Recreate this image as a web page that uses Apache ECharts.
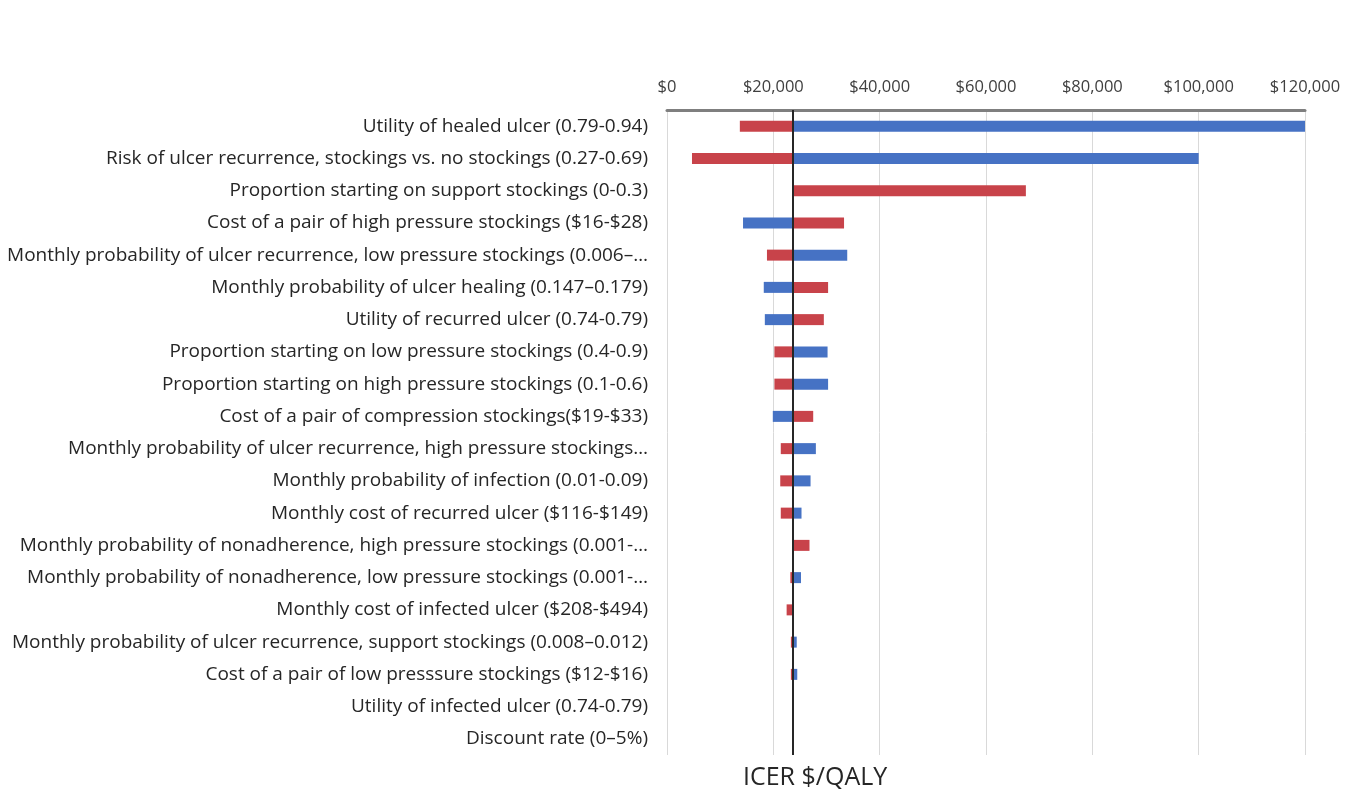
<!DOCTYPE html>
<html>
<head>
<meta charset="utf-8">
<script src="https://cdn.jsdelivr.net/npm/echarts@6/dist/echarts.min.js"></script>
<style>html,body{margin:0;padding:0;background:#fff}#c{width:1351px;height:796px}</style>
</head>
<body>
<div id="c"></div>
<script>
const categories = [
  "Utility of healed ulcer (0.79-0.94)",
  "Risk of ulcer recurrence, stockings vs. no stockings (0.27-0.69)",
  "Proportion starting on support stockings (0-0.3)",
  "Cost of a pair of high pressure stockings ($16-$28)",
  "Monthly probability of ulcer recurrence, low pressure stockings (0.006–…",
  "Monthly probability of ulcer healing (0.147–0.179)",
  "Utility of recurred ulcer (0.74-0.79)",
  "Proportion starting on low pressure stockings (0.4-0.9)",
  "Proportion starting on high pressure stockings (0.1-0.6)",
  "Cost of a pair of compression stockings($19-$33)",
  "Monthly probability of ulcer recurrence, high pressure stockings…",
  "Monthly probability of infection (0.01-0.09)",
  "Monthly cost of recurred ulcer ($116-$149)",
  "Monthly probability of nonadherence, high pressure stockings (0.001-…",
  "Monthly probability of nonadherence, low pressure stockings (0.001-…",
  "Monthly cost of infected ulcer ($208-$494)",
  "Monthly probability of ulcer recurrence, support stockings (0.008–0.012)",
  "Cost of a pair of low presssure stockings ($12-$16)",
  "Utility of infected ulcer (0.74-0.79)",
  "Discount rate (0–5%)"
];
const baseICER = 23700;
// ICER at the end of each bar (red and blue sensitivity bounds)
const redValues  = [13700, 4700, 67500, 33300, 18800, 30300, 29500, 20200, 20200, 27500, 21400, 21300, 21400, 26800, 23200, 22500, 23300, 23300, 23700, 23700];
const blueValues = [120000, 100000, 23700, 14300, 33900, 18200, 18400, 30200, 30300, 19900, 28000, 27000, 25300, 23700, 25200, 23700, 24400, 24500, 23800, 23700];
const xTicks = [0, 20000, 40000, 60000, 80000, 100000, 120000];

function barData(vals){ return vals.map((v,i)=>[v,i]); }
function renderBar(color){
  return function(params, api){
    const v = api.value(0), idx = api.value(1);
    const p0 = api.coord([baseICER, idx]);
    const p1 = api.coord([v, idx]);
    const h = 11;
    const x = Math.min(p0[0], p1[0]);
    const w = Math.abs(p1[0]-p0[0]);
    if (w < 0.5) return null;
    return {type:'rect', shape:{x:x, y:p0[1]-h/2, width:w, height:h}, style:{fill:color}};
  };
}
const chart = echarts.init(document.getElementById('c'));
chart.setOption({
  animation:false,
  backgroundColor:'#fff',
  grid:{left:667, right:46, top:110, bottom:41, containLabel:false},
  xAxis:{
    type:'value', position:'top', min:0, max:120000, interval:20000,
    axisLine:{show:true, onZero:false, lineStyle:{color:'#7f7f7f', width:3}},
    axisTick:{show:false},
    splitLine:{show:true, lineStyle:{color:'#d9d9d9', width:1}},
    axisLabel:{color:'#404040', fontFamily:'Open Sans', fontSize:16.5, margin:14,
      formatter:v=>'$'+v.toLocaleString('en-US')}
  },
  yAxis:{
    type:'category', data:categories, inverse:true,
    axisLine:{show:false}, axisTick:{show:false},
    axisLabel:{color:'#262626', fontFamily:'Open Sans', fontSize:19, margin:19, align:'right'}
  },
  series:[
    {type:'custom', name:'low', data:barData(redValues), renderItem:renderBar('#c8434a'), encode:{x:0,y:1}, z:2},
    {type:'custom', name:'high', data:barData(blueValues), renderItem:renderBar('#4672c4'), encode:{x:0,y:1}, z:2,
      markLine:{silent:true, symbol:'none', label:{show:false}, z:10,
        lineStyle:{color:'#262626', width:2, type:'solid'},
        data:[{xAxis:baseICER}]}}
  ],
  graphic:[{type:'text', left:743, top:765, style:{text:'ICER $/QALY', fontFamily:'Open Sans', fontSize:25, fill:'#262626'}}]
});
</script>
</body>
</html>
